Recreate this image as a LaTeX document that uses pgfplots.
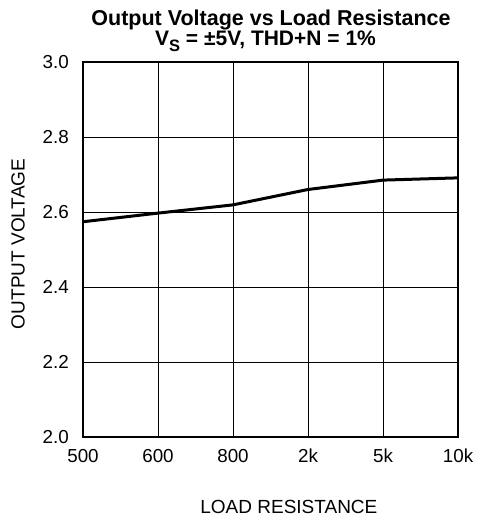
\documentclass[border=0pt]{standalone}
\usepackage{pgfplots}
\pgfplotsset{compat=1.18}
\usepackage{fontspec}
\setmainfont{Liberation Sans}
\begin{document}
\begin{tikzpicture}[x=1bp,y=1bp]
\begin{axis}[
  name=ax,
  at={(0,0)}, anchor=south west,
  width=375bp, height=375bp, scale only axis,
  xmin=0, xmax=5, ymin=2, ymax=3,
  xtick={0,1,2,3,4,5},
  xticklabels={500,600,800,2k,5k,10k},
  ytick={2.0,2.2,2.4,2.6,2.8,3.0},
  yticklabel style={/pgf/number format/fixed, /pgf/number format/fixed zerofill, /pgf/number format/precision=1, anchor=east, inner sep=0pt, xshift=-14bp},
  xticklabel style={anchor=north, inner sep=0pt, yshift=-12bp},
  /pgf/number format/assume math mode=true,
  tick label style={font=\fontsize{18.8bp}{20bp}\selectfont},
  label style={font=\fontsize{19bp}{20bp}\selectfont},
  grid=major,
  major grid style={black, line width=0.9bp},
  major tick length=0pt,
  axis line style={black, line width=1.4bp},
  xlabel={LOAD RESISTANCE},
  xlabel style={at={(axis description cs:0.549,0)}, anchor=base, yshift=-76bp, inner sep=0pt},
  ylabel={OUTPUT VOLTAGE},
  ylabel style={at={(axis description cs:-0.173,0.515)}, anchor=center, inner sep=0pt},
]
\addplot[black, line width=3bp, line join=round] coordinates {
  (0,2.574) (1,2.597) (2,2.619) (3,2.660) (4,2.685) (5,2.691)
};
\end{axis}
\node[anchor=base, inner sep=0pt, text depth=0pt, font=\bfseries\fontsize{21.5bp}{22bp}\selectfont] at ([xshift=0.5bp, yshift=36bp]ax.north) {Output Voltage vs Load Resistance};
\node[anchor=base, inner sep=0pt, font=\bfseries\fontsize{21bp}{22bp}\selectfont] at ([xshift=-5bp, yshift=16.5bp]ax.north) {V\raisebox{-0.28em}{\fontsize{16.5bp}{16bp}\selectfont S} = ±5V, THD+N = 1\%};
\pgfresetboundingbox
\path (-83,-79) rectangle (396,437);
\end{tikzpicture}
\end{document}
